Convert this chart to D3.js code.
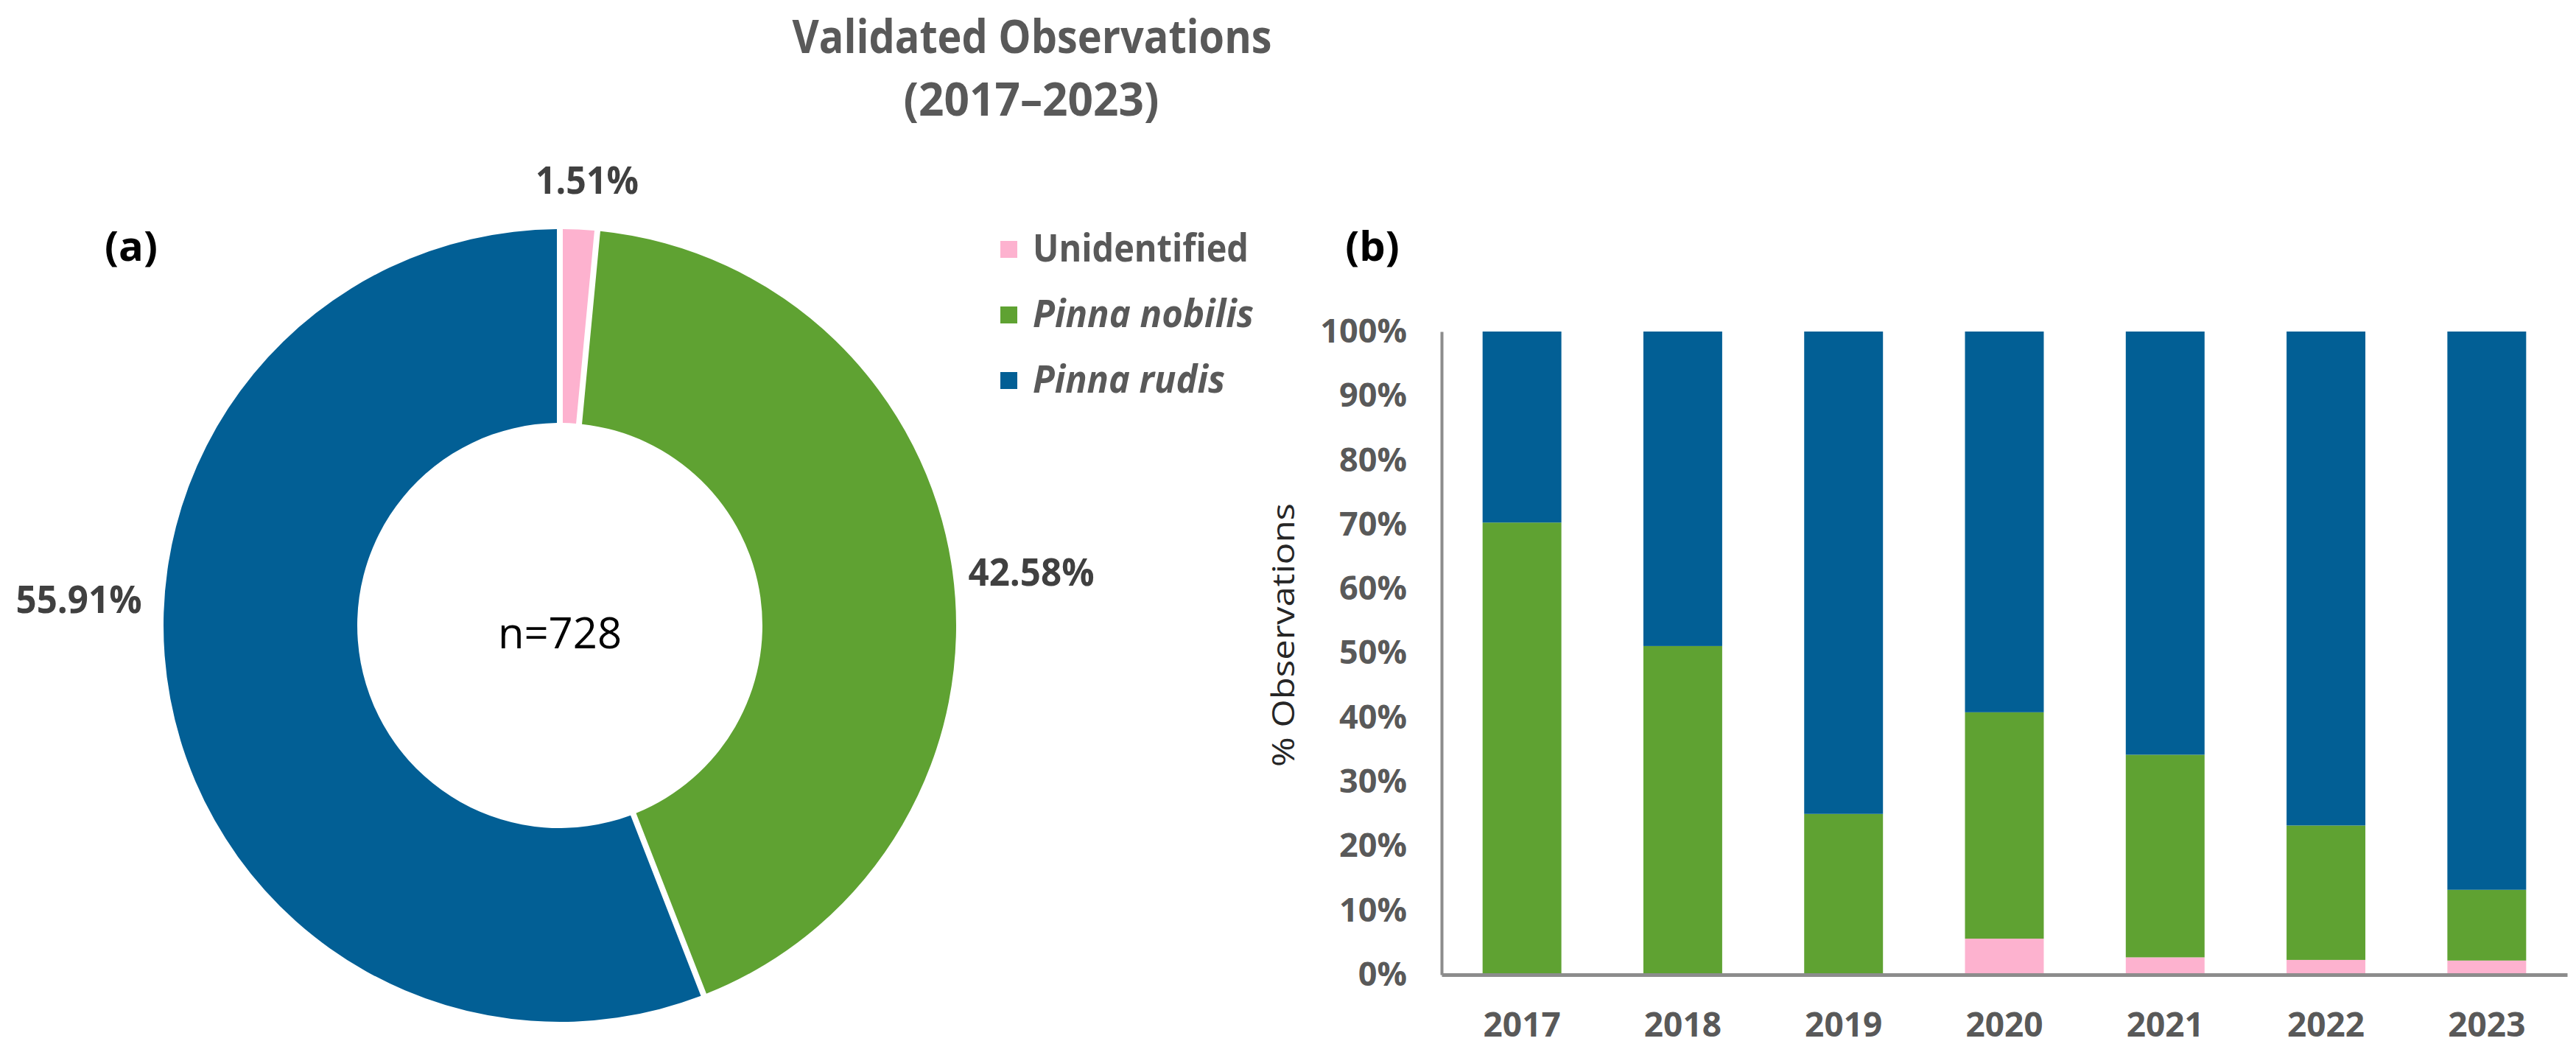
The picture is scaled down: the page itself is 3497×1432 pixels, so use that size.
<!DOCTYPE html>
<html>
<head>
<meta charset="utf-8">
<script src="https://cdn.jsdelivr.net/npm/d3@7"></script>
<style>
  body { margin: 0; background: #fff; }
  text { font-family: 'Open Sans', sans-serif; }
</style>
</head>
<body>
<div id="chart-area"></div>
<script>
// data
var species = ['Unidentified', 'Pinna nobilis', 'Pinna rudis'];
var colors = ['#fdb2cf', '#5fa232', '#025f95'];
var totalShare = [1.51, 42.58, 55.91];
var totalN = 728;

var years = ['2017', '2018', '2019', '2020', '2021', '2022', '2023'];
var unidentified = [0, 0, 0, 5.6, 2.7, 2.3, 2.2];
var nobilis = [70.3, 51.1, 25.0, 35.2, 31.5, 20.9, 11.0];
var rudis = [29.7, 48.9, 75.0, 59.2, 65.8, 76.8, 86.8];
var yTicks = [0, 10, 20, 30, 40, 50, 60, 70, 80, 90, 100];

var width = 3497, height = 1432;

var svg = d3.select('#chart-area')
    .append('svg')
        .attr('width', width)
        .attr('height', height);

function label(x, y, str, size, opts) {
    opts = opts || {};
    var t = svg.append('text')
        .attr('x', x)
        .attr('y', y)
        .attr('font-size', size + 'px')
        .attr('font-weight', opts.weight || 700)
        .attr('font-style', opts.style || 'normal')
        .attr('text-anchor', opts.anchor || 'middle')
        .attr('fill', opts.fill || '#595959')
        .text(str);
    if (opts.len) {
        t.attr('textLength', opts.len).attr('lengthAdjust', 'spacingAndGlyphs');
    }
    return t;
}

// Title
label(1401, 72, 'Validated Observations', 62, { len: 651 });
label(1400, 157, '(2017\u20132023)', 62, { len: 347 });

// Panel letters
label(178, 354, '(a)', 56, { fill: '#000' });
label(1863, 354, '(b)', 56, { fill: '#000' });

// ---- (a) donut ----
var cx = 760, cy = 849, rOuter = 538, rInner = 275;

var pie = d3.pie().sort(null).value(d => d);
var arc = d3.arc()
    .innerRadius(rInner)
    .outerRadius(rOuter)
    .padAngle(8 / rOuter)
    .padRadius(rOuter);

var donut = svg.append('g')
    .attr('transform', 'translate(' + cx + ',' + cy + ')');

donut.selectAll('path')
    .data(pie(totalShare))
    .enter()
    .append('path')
    .attr('d', arc)
    .attr('fill', (d, i) => colors[i]);

// slice labels (Excel places these outside the ring)
var labelSpots = [[37, -586], [640, -54], [-653, -17]];
var labelLens = [140, 171, 171];
pie(totalShare).forEach((d, i) => {
    label(cx + labelSpots[i][0], cy + labelSpots[i][1], totalShare[i].toFixed(2) + '%', 52,
        { fill: '#404040', len: labelLens[i] });
});

label(cx, 880, 'n=' + totalN, 58, { weight: 400, fill: '#000' });

// Legend
var legendLens = [293, 300, 261];
species.forEach((s, i) => {
    var ly = 327 + i * 89;
    svg.append('rect')
        .attr('x', 1358)
        .attr('y', ly)
        .attr('width', 23)
        .attr('height', 23)
        .attr('fill', colors[i]);
    label(1402, ly + 28, s, 52, {
        anchor: 'start',
        style: i === 0 ? 'normal' : 'italic',
        len: legendLens[i]
    });
});

// ---- (b) stacked bars ----
var table = years.map((yr, i) => ({
    year: yr,
    'Unidentified': unidentified[i],
    'Pinna nobilis': nobilis[i],
    'Pinna rudis': rudis[i]
}));

var x = d3.scaleBand()
    .domain(years)
    .range([1957, 3485])
    .paddingInner(0.51)
    .paddingOuter(0.255);

var y = d3.scaleLinear()
    .domain([0, 100])
    .range([1323, 450]);

var stack = d3.stack().keys(species)(table);

var bars = svg.append('g');
bars.selectAll('g')
    .data(stack)
    .enter()
    .append('g')
        .attr('fill', (d, i) => colors[i])
    .selectAll('rect')
    .data(d => d)
    .enter()
    .append('rect')
        .attr('x', d => x(d.data.year))
        .attr('width', x.bandwidth())
        .attr('y', d => y(d[1]))
        .attr('height', d => y(d[0]) - y(d[1]));

// Y axis
var yAxisCall = d3.axisLeft(y)
    .tickValues(yTicks)
    .tickSize(0)
    .tickPadding(47)
    .tickFormat(d => d + '%');
var yAxis = svg.append('g')
    .attr('transform', 'translate(1957,0)')
    .call(yAxisCall);
yAxis.select('.domain')
    .attr('stroke', '#8c8c8c')
    .attr('stroke-width', 4);
yAxis.selectAll('text')
    .attr('font-family', 'Open Sans')
    .attr('font-size', '45px')
    .attr('font-weight', 700)
    .attr('fill', '#595959');

// X axis
var xAxisCall = d3.axisBottom(x).tickSize(0).tickPadding(0);
var xAxis = svg.append('g')
    .attr('transform', 'translate(0,1323)')
    .call(xAxisCall);
xAxis.select('.domain')
    .attr('stroke', '#8c8c8c')
    .attr('stroke-width', 5);
xAxis.selectAll('text')
    .attr('y', 84)
    .attr('dy', 0)
    .attr('font-family', 'Open Sans')
    .attr('font-size', '46px')
    .attr('font-weight', 700)
    .attr('fill', '#595959');

// Y-Axis Label
svg.append('text')
    .attr('text-anchor', 'middle')
    .attr('transform', 'translate(1757,862) rotate(-90)')
    .attr('font-size', '42px')
    .attr('fill', '#262626')
    .attr('textLength', 358)
    .attr('lengthAdjust', 'spacingAndGlyphs')
    .text('% Observations');
</script>
</body>
</html>
